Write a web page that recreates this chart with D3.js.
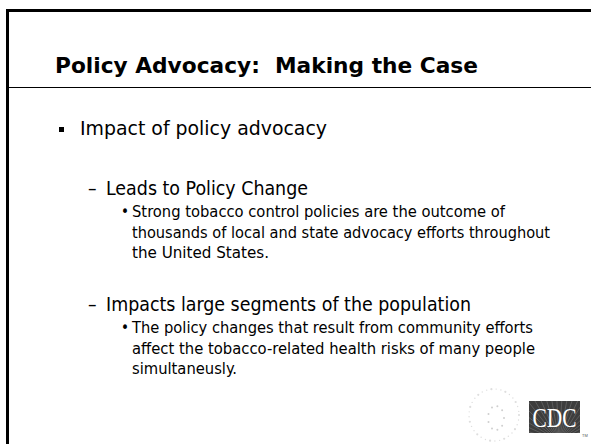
<!DOCTYPE html>
<html>
<head>
<meta charset="utf-8">
<script src="https://cdn.jsdelivr.net/npm/d3@7"></script>
<style>
  body { margin: 0; background: #fff; }
  svg { display: block; }
  text { white-space: pre; }
</style>
</head>
<body>
<div id="slide"></div>
<script>
var title = "Policy Advocacy:  Making the Case";
var level1 = ["Impact of policy advocacy"];
var level2 = ["Leads to Policy Change", "Impacts large segments of the population"];
var level3 = [
  ["Strong tobacco control policies are the outcome of",
   "thousands of local and state advocacy efforts throughout",
   "the United States."],
  ["The policy changes that result from community efforts",
   "affect the tobacco-related health risks of many people",
   "simultaneusly."]
];
var logoText = "CDC";

var width = 591,
    height = 444;

var svg = d3.select("#slide").append("svg")
  .attr("width", width)
  .attr("height", height);

// frame
svg.append("path")
  .attr("d", "M7.5," + height + "V10.5H" + width)
  .attr("fill", "none")
  .attr("stroke", "#000")
  .attr("stroke-width", 3);
svg.append("line")
  .attr("x1", 6).attr("x2", width)
  .attr("y1", 87.5).attr("y2", 87.5)
  .attr("stroke", "#000")
  .attr("stroke-width", 1);

svg.append("text")
  .attr("x", 55)
  .attr("y", 73)
  .attr("font-family", "DejaVu Sans, Verdana, sans-serif")
  .attr("font-weight", "bold")
  .attr("font-size", 22)
  .attr("textLength", 423)
  .attr("lengthAdjust", "spacingAndGlyphs")
  .text(title);

var body = "DejaVu Sans Condensed, Tahoma, sans-serif";

svg.append("rect")
  .attr("x", 59).attr("y", 127)
  .attr("width", 5).attr("height", 5)
  .attr("fill", "#000");
svg.append("text")
  .attr("x", 80).attr("y", 135)
  .attr("font-family", body)
  .attr("font-size", 20)
  .attr("textLength", 247)
  .attr("lengthAdjust", "spacingAndGlyphs")
  .text(level1[0]);

var y2 = [195, 311];
var w2 = [202, 365];
var w3 = [[373, 418, 137], [401, 403, 105]];
level2.forEach(function(t, i) {
  var g = svg.append("g").attr("font-family", body).attr("fill", "#000");
  g.append("text")
    .attr("x", 88).attr("y", y2[i])
    .attr("font-size", 19)
    .text("\u2013");
  g.append("text")
    .attr("x", 106).attr("y", y2[i])
    .attr("font-size", 19)
    .attr("textLength", w2[i])
    .attr("lengthAdjust", "spacingAndGlyphs")
    .text(t);
  g.append("text")
    .attr("x", 121).attr("y", y2[i] + 22)
    .attr("font-size", 15)
    .text("\u2022");
  g.selectAll(".sub")
    .data(level3[i])
    .enter().append("text")
    .attr("x", 132)
    .attr("y", function(d, j) { return y2[i] + 22 + j * 20.5; })
    .attr("font-size", 16)
    .attr("textLength", function(d, j) { return w3[i][j]; })
    .attr("lengthAdjust", "spacingAndGlyphs")
    .text(function(d) { return d; });
});

// faint seal behind the logo
var seal = svg.append("g").attr("fill", "#dedede");
var ring = d3.range(0, 360, 11);
seal.selectAll("circle.o")
  .data(ring)
  .enter().append("circle")
  .attr("cx", function(d) { return 494 + 25 * Math.cos(d * Math.PI / 180); })
  .attr("cy", function(d) { return 415 + 26 * Math.sin(d * Math.PI / 180); })
  .attr("r", function(d, i) { return i % 3 ? 0.7 : 1.1; });
seal.selectAll("circle.i")
  .data(d3.range(0, 360, 40))
  .enter().append("circle")
  .attr("cx", function(d) { return 496 + 8 * Math.cos(d * Math.PI / 180); })
  .attr("cy", function(d) { return 418 + 12 * Math.sin(d * Math.PI / 180); })
  .attr("r", 1)
  .attr("fill", "#cfcfcf");

// CDC logo
var logo = svg.append("g").attr("transform", "translate(529,401)");
svg.append("clipPath").attr("id", "logoclip")
  .append("rect").attr("width", 51).attr("height", 32);
var inner = logo.append("g").attr("clip-path", "url(#logoclip)");
inner.append("rect")
  .attr("width", 51).attr("height", 32)
  .attr("fill", "#3d3d3d");
inner.selectAll(".ray")
  .data(d3.range(-80, 81, 7))
  .enter().append("line")
  .attr("x1", 30).attr("y1", 40)
  .attr("x2", function(d) { return 30 + 70 * Math.sin(d * Math.PI / 180); })
  .attr("y2", function(d) { return 40 - 70 * Math.cos(d * Math.PI / 180); })
  .attr("stroke", "#5c5c5c")
  .attr("stroke-width", 1);
logo.append("text")
  .attr("x", 25.5).attr("y", 26)
  .attr("text-anchor", "middle")
  .attr("font-family", "Liberation Serif, Times New Roman, serif")
  .attr("font-size", 27)
  .attr("textLength", 44)
  .attr("lengthAdjust", "spacingAndGlyphs")
  .attr("fill", "#fff")
  .text(logoText);
svg.append("text")
  .attr("x", 582).attr("y", 437)
  .attr("font-family", "Liberation Sans, sans-serif")
  .attr("font-size", 4)
  .attr("fill", "#555")
  .text("TM");
</script>
</body>
</html>
